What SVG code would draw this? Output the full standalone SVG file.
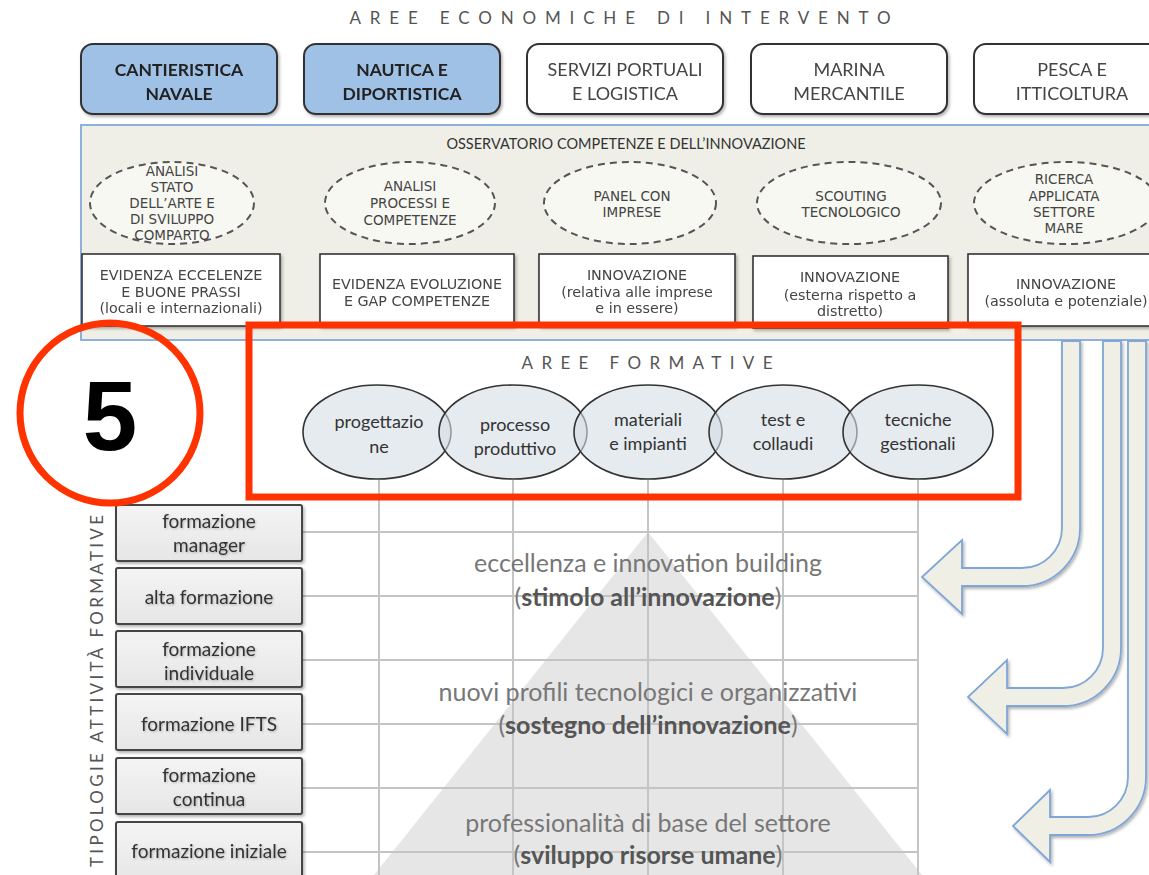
<svg xmlns="http://www.w3.org/2000/svg" width="1149" height="875" viewBox="0 0 1149 875">
<style>
.ttl{font-family:Lato,"Open Sans",sans-serif;font-size:17px;fill:#555;text-anchor:middle}
.sec{fill:#a0c1e6;stroke:#333;stroke-width:2}
.sec2{fill:#fff;stroke:#333;stroke-width:2}
.hb{font-family:Lato,"Open Sans",sans-serif;font-size:17.5px;font-weight:bold;fill:#222;text-anchor:middle}
.hn{font-family:Lato,"Open Sans",sans-serif;font-size:18px;fill:#444;text-anchor:middle}
.obs{fill:#efefe7;stroke:#8eb0da;stroke-width:2}
.ot{font-family:Lato,"Open Sans",sans-serif;font-size:14.5px;fill:#333;text-anchor:middle}
.de{fill:#f8f8f3;stroke:#555;stroke-width:2;stroke-dasharray:7,5}
.sm{font-family:"DejaVu Sans",Verdana,sans-serif;font-size:13.5px;fill:#444;text-anchor:middle}
.bx{font-size:14.3px}
.wb{fill:#fff;stroke:#333;stroke-width:1.6}
.fe{fill:#d4dde5;fill-opacity:0.6;stroke:#333;stroke-width:1.6}
.ft{font-family:Lato,"Open Sans",sans-serif;font-size:18px;fill:#333;text-anchor:middle}
.ab{stroke:#444;stroke-width:2}
.at{font-family:Lato,"Open Sans",sans-serif;font-size:19px;fill:#333;text-anchor:middle}
.gl{stroke:#c4c4c4;stroke-width:2;fill:none}
.pt{font-family:Lato,"Open Sans",sans-serif;font-size:25px;fill:#777;text-anchor:middle}
.pb{font-weight:bold;fill:#555}
.arr{fill:#f0efe6;stroke:#7fa6d6;stroke-width:1.8}
.red{fill:none;stroke:#ff3300;stroke-width:7}
</style>
<defs>
<filter id="sh" x="-10%" y="-10%" width="130%" height="140%">
<feDropShadow dx="1.5" dy="2" stdDeviation="1.5" flood-color="#000" flood-opacity="0.3"/>
</filter>
<filter id="tsh" x="-10%" y="-30%" width="120%" height="160%">
<feDropShadow dx="1" dy="1" stdDeviation="1" flood-color="#000" flood-opacity="0.25"/>
</filter>
<linearGradient id="gb" x1="0" y1="0" x2="0" y2="1">
<stop offset="0" stop-color="#f4f4f4"/><stop offset="1" stop-color="#e6e6e6"/>
</linearGradient>
</defs>
<rect width="1149" height="875" fill="#fff"/>

<text class="ttl" x="620" y="24" textLength="541" lengthAdjust="spacing">AREE ECONOMICHE DI INTERVENTO</text>

<g id="sector-cantieristica" filter="url(#sh)"><rect class="sec" x="81" y="44" width="196" height="70" rx="12"/><text class="hb" x="179" y="76">CANTIERISTICA</text><text class="hb" x="179" y="100">NAVALE</text></g>
<g id="sector-nautica" filter="url(#sh)"><rect class="sec" x="304" y="44" width="196" height="70" rx="12"/><text class="hb" x="402" y="76">NAUTICA E</text><text class="hb" x="402" y="100">DIPORTISTICA</text></g>
<g id="sector-servizi" filter="url(#sh)"><rect class="sec2" x="527" y="44" width="196" height="70" rx="12"/><text class="hn" x="625" y="76">SERVIZI PORTUALI</text><text class="hn" x="625" y="100">E LOGISTICA</text></g>
<g id="sector-marina" filter="url(#sh)"><rect class="sec2" x="751" y="44" width="196" height="70" rx="12"/><text class="hn" x="849" y="76">MARINA</text><text class="hn" x="849" y="100">MERCANTILE</text></g>
<g id="sector-pesca" filter="url(#sh)"><rect class="sec2" x="974" y="44" width="196" height="70" rx="12"/><text class="hn" x="1072" y="76">PESCA E</text><text class="hn" x="1072" y="100">ITTICOLTURA</text></g>

<g id="osservatorio">
<rect class="obs" x="81" y="125" width="1090" height="215"/>
<text class="ot" x="626" y="149">OSSERVATORIO COMPETENZE E DELL’INNOVAZIONE</text>
</g>

<g id="analisi-stato"><ellipse class="de" cx="172" cy="203" rx="82" ry="41"/>
<text class="sm" x="172" y="176">ANALISI</text><text class="sm" x="172" y="192">STATO</text><text class="sm" x="172" y="208">DELL’ARTE E</text><text class="sm" x="172" y="224">DI SVILUPPO</text><text class="sm" x="172" y="240">COMPARTO</text></g>
<g id="analisi-processi"><ellipse class="de" cx="410" cy="203" rx="85" ry="41"/>
<text class="sm" x="410" y="191">ANALISI</text><text class="sm" x="410" y="208">PROCESSI E</text><text class="sm" x="410" y="225">COMPETENZE</text></g>
<g id="panel-imprese"><ellipse class="de" cx="630" cy="203" rx="86" ry="41"/>
<text class="sm" x="632" y="201">PANEL CON</text><text class="sm" x="632" y="217">IMPRESE</text></g>
<g id="scouting"><ellipse class="de" cx="849" cy="203" rx="92" ry="41"/>
<text class="sm" x="851" y="201">SCOUTING</text><text class="sm" x="851" y="217">TECNOLOGICO</text></g>
<g id="ricerca"><ellipse class="de" cx="1066" cy="203" rx="92" ry="41"/>
<text class="sm" x="1064" y="184">RICERCA</text><text class="sm" x="1064" y="201">APPLICATA</text><text class="sm" x="1064" y="217">SETTORE</text><text class="sm" x="1064" y="233">MARE</text></g>

<g id="evidenza-eccellenze" filter="url(#sh)"><rect class="wb" x="82" y="254" width="198" height="72"/>
<text class="sm bx" x="181" y="280">EVIDENZA ECCELENZE</text><text class="sm bx" x="181" y="297">E BUONE PRASSI</text><text class="sm bx" x="181" y="313">(locali e internazionali)</text></g>
<g id="evidenza-evoluzione" filter="url(#sh)"><rect class="wb" x="320" y="254" width="194" height="72"/>
<text class="sm bx" x="417" y="289">EVIDENZA EVOLUZIONE</text><text class="sm bx" x="417" y="306">E GAP COMPETENZE</text></g>
<g id="innovazione-relativa" filter="url(#sh)"><rect class="wb" x="539" y="254" width="196" height="72"/>
<text class="sm bx" x="637" y="280">INNOVAZIONE</text><text class="sm bx" x="637" y="297">(relativa alle imprese</text><text class="sm bx" x="637" y="313">e in essere)</text></g>
<g id="innovazione-esterna" filter="url(#sh)"><rect class="wb" x="753" y="256" width="195" height="72"/>
<text class="sm bx" x="850" y="282">INNOVAZIONE</text><text class="sm bx" x="850" y="300">(esterna rispetto a</text><text class="sm bx" x="850" y="316">distretto)</text></g>
<g id="innovazione-assoluta" filter="url(#sh)"><rect class="wb" x="968" y="254" width="200" height="72"/>
<text class="sm bx" x="1066" y="289">INNOVAZIONE</text><text class="sm bx" x="1066" y="306">(assoluta e potenziale)</text></g>

<g id="piramide">
<polygon points="648,532 374,875 922,875" fill="#e6e6e6"/>
</g>

<g id="griglia">
<path class="gl" d="M379,480V875M513,480V875M648,480V875M783,480V875M918,480V875"/>
<path class="gl" d="M302,532H918M302,596H918M302,660H918M302,724H918M302,788H918M302,852H918"/>
</g>

<g id="livelli">
<text class="pt" x="648" y="572">eccellenza e innovation building</text>
<text class="pt" x="648" y="606">(<tspan class="pb">stimolo all’innovazione</tspan>)</text>
<text class="pt" x="648" y="701">nuovi profili tecnologici e organizzativi</text>
<text class="pt" x="648" y="734">(<tspan class="pb">sostegno dell’innovazione</tspan>)</text>
<text class="pt" x="648" y="832">professionalità di base del settore</text>
<text class="pt" x="648" y="864">(<tspan class="pb">sviluppo risorse umane</tspan>)</text>
</g>

<text class="ttl" x="647" y="369" font-size="16" textLength="251" lengthAdjust="spacing">AREE FORMATIVE</text>

<g id="area-progettazione"><ellipse class="fe" cx="377" cy="432" rx="74" ry="47"/><text class="ft" x="379" y="428">progettazio</text><text class="ft" x="379" y="453">ne</text></g>
<g id="area-processo"><ellipse class="fe" cx="513" cy="432" rx="74" ry="47"/><text class="ft" x="515" y="431">processo</text><text class="ft" x="515" y="455">produttivo</text></g>
<g id="area-materiali"><ellipse class="fe" cx="648" cy="432" rx="74" ry="47"/><text class="ft" x="648" y="426">materiali</text><text class="ft" x="648" y="450">e impianti</text></g>
<g id="area-test"><ellipse class="fe" cx="783" cy="432" rx="74" ry="47"/><text class="ft" x="783" y="426">test e</text><text class="ft" x="783" y="450">collaudi</text></g>
<g id="area-tecniche"><ellipse class="fe" cx="918" cy="432" rx="75" ry="47"/><text class="ft" x="918" y="426">tecniche</text><text class="ft" x="918" y="450">gestionali</text></g>

<text class="ttl" transform="translate(103,691) rotate(-90)" font-size="16" fill="#5a5a5a" textLength="352" lengthAdjust="spacing">TIPOLOGIE  ATTIVITÀ  FORMATIVE</text>

<g id="att-manager"><rect class="ab" x="116" y="505" width="186" height="56" rx="2" fill="url(#gb)" filter="url(#sh)"/><g filter="url(#tsh)"><text class="at" x="209" y="528">formazione</text><text class="at" x="209" y="552">manager</text></g></g>
<g id="att-alta"><rect class="ab" x="116" y="568" width="186" height="56" rx="2" fill="url(#gb)" filter="url(#sh)"/><g filter="url(#tsh)"><text class="at" x="209" y="604">alta formazione</text></g></g>
<g id="att-individuale"><rect class="ab" x="116" y="631" width="186" height="56" rx="2" fill="url(#gb)" filter="url(#sh)"/><g filter="url(#tsh)"><text class="at" x="209" y="656">formazione</text><text class="at" x="209" y="680">individuale</text></g></g>
<g id="att-ifts"><rect class="ab" x="116" y="694" width="186" height="56" rx="2" fill="url(#gb)" filter="url(#sh)"/><g filter="url(#tsh)"><text class="at" x="209" y="731">formazione IFTS</text></g></g>
<g id="att-continua"><rect class="ab" x="116" y="758" width="186" height="56" rx="2" fill="url(#gb)" filter="url(#sh)"/><g filter="url(#tsh)"><text class="at" x="209" y="782">formazione</text><text class="at" x="209" y="806">continua</text></g></g>
<g id="att-iniziale"><rect class="ab" x="116" y="822" width="186" height="60" rx="2" fill="url(#gb)" filter="url(#sh)"/><g filter="url(#tsh)"><text class="at" x="209" y="858">formazione iniziale</text></g></g>

<g id="connectors" filter="url(#sh)">
<path class="arr" d="M1062,341 L1080,341 L1080,528 A58,58 0 0 1 1022,586 L962,586 L962,614 L922,577 L962,540 L962,568 L1022,568 A40,40 0 0 0 1062,528 Z"/>
<path class="arr" d="M1103,341 L1121,341 L1121,648 A58,58 0 0 1 1063,706 L1007,706 L1007,734 L968,697 L1007,660 L1007,688 L1063,688 A40,40 0 0 0 1103,648 Z"/>
<path class="arr" d="M1128,341 L1146,341 L1146,777 A58,58 0 0 1 1088,835 L1050,835 L1050,862 L1013,826 L1050,790 L1050,817 L1088,817 A40,40 0 0 0 1128,777 Z"/>
</g>

<g id="evidenziazione">
<rect class="red" x="249" y="325" width="769" height="172"/>
<circle class="red" cx="110" cy="413" r="90" fill="#fff"/>
<text x="110" y="450" font-family="'Liberation Sans',Arial,sans-serif" font-size="98" font-weight="bold" fill="#000" text-anchor="middle">5</text>
</g>
</svg>
